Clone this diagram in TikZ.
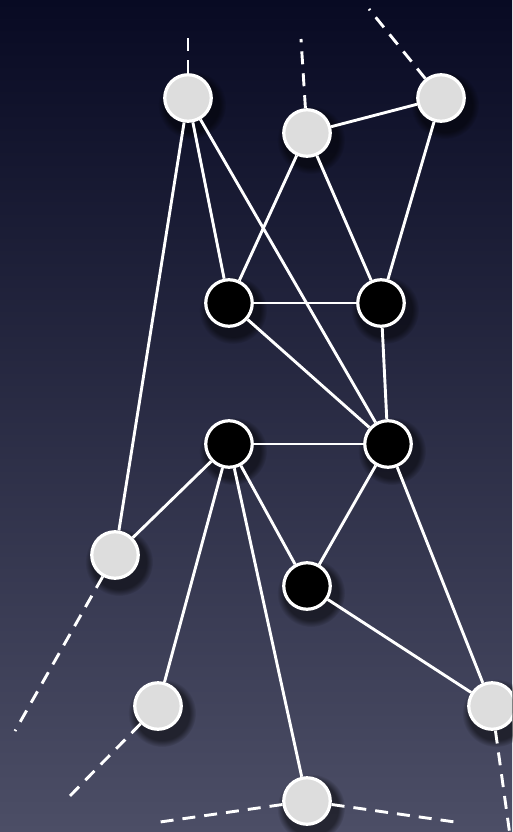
\documentclass[tikz,border=0pt]{standalone}
\usetikzlibrary{fadings,calc}
\definecolor{bgtop}{RGB}{8,10,35}
\definecolor{bgbot}{RGB}{76,78,102}
\definecolor{lightnode}{RGB}{221,221,221}
\pgfdeclarelayer{bg}
\pgfsetlayers{bg,main}
\begin{document}
\begin{tikzpicture}[x=1pt,y=-1pt,
  edge/.style={draw=white, line width=2.9pt},
  dashedge/.style={edge, dash pattern=on 13pt off 9pt},
  vertex/.style={circle, minimum size=46.5pt, inner sep=0pt, draw=white, line width=3.2pt},
  lightv/.style={vertex, fill=lightnode},
  darkv/.style={vertex, fill=black},
  nodeshadow/.style={fill=black, opacity=0.5, path fading=circle with fuzzy edge 20 percent}
]
\useasboundingbox (0,0) rectangle (512,832);
\clip (0,0) rectangle (512,832);
% nodes
\node[lightv] (A) at (188,98) {};
\node[lightv] (B) at (307,133) {};
\node[lightv] (C) at (441,98) {};
\node[darkv] (D) at (229,303) {};
\node[darkv] (E) at (381,303) {};
\node[darkv] (F) at (229,444) {};
\node[darkv] (G) at (388,444) {};
\node[lightv] (H) at (115,555) {};
\node[darkv] (I) at (307,586) {};
\node[lightv] (J) at (158,706) {};
\node[lightv] (K) at (492,706) {};
\node[lightv] (L) at (307,801) {};
% free ends of dashed lines
\coordinate (a0) at (188,31);
\coordinate (b0) at (301,39);
\coordinate (c0) at (369,9);
\coordinate (h0) at (15,731);
\coordinate (j0) at (64,802);
\coordinate (l1) at (160,822);
\coordinate (l2) at (455,822);
\coordinate (k0) at (512,850);
\begin{pgfonlayer}{bg}
  \shade[top color=bgtop, bottom color=bgbot] (0,0) rectangle (512,832);
  \foreach \n in {A,B,C,D,E,F,G,H,I,J,K,L}{
    \fill[nodeshadow] ($(\n)+(4,7)$) circle (34);
  }
  % solid edges
  \draw[edge] (A) -- (H);
  \draw[edge] (A) -- (D);
  \draw[edge] (A) -- (G);
  \draw[edge] (B) -- (C);
  \draw[edge] (B) -- (D);
  \draw[edge] (B) -- (E);
  \draw[edge] (C) -- (E);
  \draw[edge] (D) -- (E);
  \draw[edge] (D) -- (G);
  \draw[edge] (E) -- (G);
  \draw[edge] (F) -- (G);
  \draw[edge] (F) -- (H);
  \draw[edge] (F) -- (J);
  \draw[edge] (F) -- (L);
  \draw[edge] (F) -- (I);
  \draw[edge] (G) -- (I);
  \draw[edge] (G) -- (K);
  \draw[edge] (I) -- (K);
  % dashed edges
  \draw[dashedge] (A) -- (a0);
  \draw[dashedge] (B) -- (b0);
  \draw[dashedge] (C) -- (c0);
  \draw[dashedge] (H) -- (h0);
  \draw[dashedge] (J) -- (j0);
  \draw[dashedge] (L) -- (l1);
  \draw[dashedge] (L) -- (l2);
  \draw[dashedge] (K) -- (k0);
\end{pgfonlayer}
\end{tikzpicture}
\end{document}
